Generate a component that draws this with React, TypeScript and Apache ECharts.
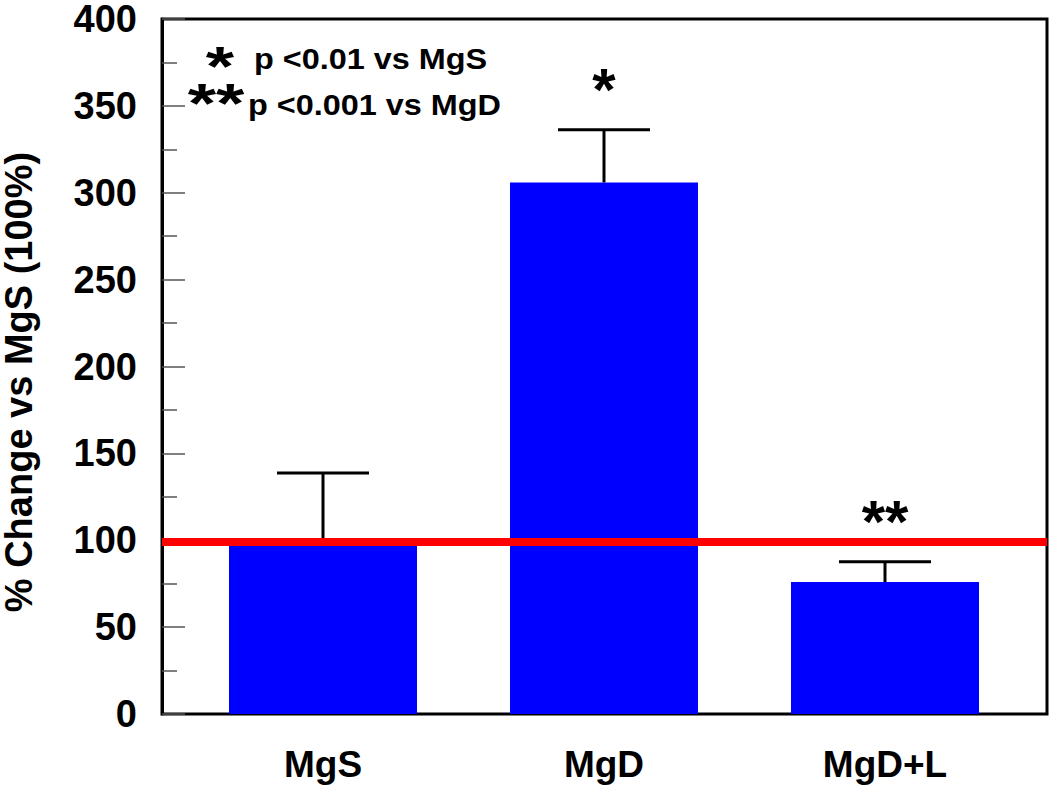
import { useEffect, useRef } from 'react';
import * as echarts from 'echarts';

const categories = ['MgS', 'MgD', 'MgD+L'];
const meanValues = [98, 302, 75];
const upperErrors = [137, 332, 86.5];
const significance = ['', '*', '**'];
const referenceLevel = 99;
const yMin = 0;
const yMax = 400;
const yStep = 50;
const yAxisTitle = '% Change vs MgS (100%)';
const legendStars = ['*', '**'];
const legendNotes = ['p <0.01 vs MgS', 'p <0.001 vs MgD'];

const FONT = '"Liberation Sans", Arial, Helvetica, sans-serif';

export default function App() {
  const ref = useRef<HTMLDivElement>(null);

  useEffect(() => {
    if (!ref.current) return;
    const chart = echarts.init(ref.current, null, { renderer: 'svg' });

    const legendGraphics: any[] = [];
    const legendRowY = [59, 105];
    const starRowY = [66, 103];
    const starX = [220, 216];
    legendStars.forEach((s, i) => {
      legendGraphics.push({
        type: 'text',
        x: starX[i],
        y: starRowY[i],
        scaleX: 1.3,
        style: { text: s, font: `bold 56px ${FONT}`, fill: '#000', align: 'center', verticalAlign: 'middle' },
      });
    });
    legendNotes.forEach((t, i) => {
      legendGraphics.push({
        type: 'text',
        x: [254, 248][i],
        y: legendRowY[i],
        scaleX: 1.08,
        style: { text: t, font: `bold 30px ${FONT}`, fill: '#000', align: 'left', verticalAlign: 'middle' },
      });
    });

    chart.setOption({
      animation: false,
      backgroundColor: '#fff',
      grid: [
        { left: 162, right: 3, top: 10, bottom: 72, show: true, borderColor: '#000', borderWidth: 3, backgroundColor: 'transparent' },
        { left: 182.5, right: 24.5, top: 10, bottom: 72 },
      ],
      xAxis: [
        { type: 'value', gridIndex: 0, min: 0, max: 1, show: false },
        {
          type: 'category',
          gridIndex: 1,
          data: categories,
          axisLine: { show: false },
          axisTick: { show: false },
          axisLabel: { margin: 32, fontSize: 37, fontWeight: 'bold', fontFamily: FONT, color: '#000' },
        },
      ],
      yAxis: [
        {
          type: 'value',
          gridIndex: 0,
          min: yMin,
          max: yMax,
          interval: yStep,
          axisLine: { show: true, lineStyle: { color: '#000', width: 3 } },
          axisTick: { show: true, inside: true, length: 23, lineStyle: { color: '#555', width: 1.5 } },
          minorTick: { show: true, splitNumber: 2, length: 15, lineStyle: { color: '#555', width: 1.5 } },
          splitLine: { show: false },
          axisLabel: {
            margin: 25,
            fontSize: 38,
            fontWeight: 'bold',
            fontFamily: FONT,
            color: '#000',
            padding: [5, 0, 0, 0],
          },
        },
        { type: 'value', gridIndex: 1, min: yMin, max: yMax, show: false },
      ],
      graphic: [
        {
          type: 'text',
          x: 19,
          y: 382,
          rotation: Math.PI / 2,
          style: { text: yAxisTitle, font: `bold 38px ${FONT}`, fill: '#000', align: 'center', verticalAlign: 'middle' },
        },
        ...legendGraphics,
      ],
      series: [
        {
          type: 'bar',
          xAxisIndex: 1,
          yAxisIndex: 1,
          data: meanValues,
          barWidth: 188,
          itemStyle: { color: '#0000ff' },
          z: 2,
        },
        {
          type: 'custom',
          xAxisIndex: 1,
          yAxisIndex: 1,
          z: 3,
          data: categories.map((_, i) => [i, meanValues[i], upperErrors[i]]),
          renderItem: (params: any, api: any) => {
            const i = api.value(0);
            const base = api.coord([i, api.value(1)]);
            const top = api.coord([i, api.value(2)]);
            const half = 46;
            const children: any[] = [
              { type: 'line', shape: { x1: base[0], y1: base[1], x2: top[0], y2: top[1] }, style: { stroke: '#000', lineWidth: 3 } },
              { type: 'line', shape: { x1: top[0] - half, y1: top[1], x2: top[0] + half, y2: top[1] }, style: { stroke: '#000', lineWidth: 3 } },
            ];
            const mark = significance[params.dataIndex];
            if (mark) {
              children.push({
                type: 'text',
                x: top[0],
                y: top[1] - 40,
                style: { text: mark, font: `bold 60px ${FONT}`, fill: '#000', align: 'center', verticalAlign: 'middle' },
              });
            }
            return { type: 'group', children };
          },
        },
        {
          type: 'line',
          xAxisIndex: 0,
          yAxisIndex: 0,
          data: [
            [0, referenceLevel],
            [1, referenceLevel],
          ],
          symbol: 'none',
          lineStyle: { color: '#ff0000', width: 8 },
          z: 5,
          silent: true,
        },
      ],
    });

    return () => chart.dispose();
  }, []);

  return <div ref={ref} style={{ position: 'fixed', left: 0, top: 0, width: 1050, height: 786 }} />;
}
